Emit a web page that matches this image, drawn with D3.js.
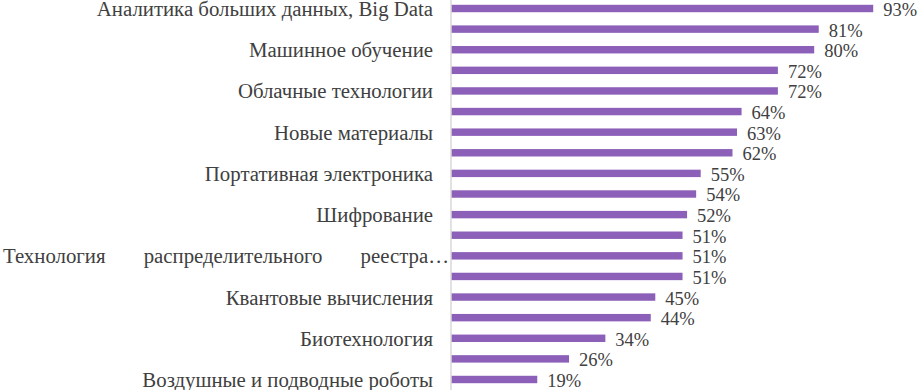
<!DOCTYPE html>
<html>
<head>
<meta charset="utf-8">
<script src="https://cdn.jsdelivr.net/npm/d3@7"></script>
<style>
  body { margin: 0; background: #fff; }
</style>
</head>
<body>
<div id="chart"></div>
<script>
// values, top to bottom
var values = [93, 81, 80, 72, 72, 64, 63, 62, 55, 54, 52, 51, 51, 51, 45, 44, 34, 26, 19];

// only every other category label is shown in the picture
var tickLabels = [
  "Аналитика больших данных, Big Data", "",
  "Машинное обучение", "",
  "Облачные технологии", "",
  "Новые материалы", "",
  "Портативная электроника", "",
  "Шифрование", "",
  "Технология распределительного реестра…", "",
  "Квантовые вычисления", "",
  "Биотехнология", "",
  "Воздушные и подводные роботы"
];

var width = 917, height = 390;
var axisX = 451;
var font = "'Liberation Serif', 'Times New Roman', serif";
var textColor = "#404040";

var svg = d3.select("#chart").append("svg")
    .attr("width", width)
    .attr("height", height);

var x = d3.scaleLinear()
    .domain([0, 100])
    .range([axisX, axisX + 454]);

var y = d3.scaleBand()
    .domain(d3.range(values.length))
    .range([-1.8, 389.8])
    .paddingInner(0.64)
    .paddingOuter(0.32);

// bars
svg.selectAll(".bar")
    .data(values)
  .enter().append("rect")
    .attr("class", "bar")
    .attr("x", x(0))
    .attr("y", function(d, i) { return y(i); })
    .attr("width", function(d) { return x(d) - x(0); })
    .attr("height", y.bandwidth())
    .attr("fill", "#8c5fb8");

// vertical category axis
var yAxis = d3.axisLeft(y)
    .tickSize(0)
    .tickPadding(18)
    .tickFormat(function(i) { return tickLabels[i]; });

var gy = svg.append("g")
    .attr("transform", "translate(" + axisX + ",0)")
    .call(yAxis);

gy.select(".domain")
    .attr("stroke", "#d9d9d9")
    .attr("stroke-width", 1.5)
    .attr("d", "M0,0V" + height);

gy.selectAll(".tick text")
    .attr("dy", "0.36em")
    .style("font-family", font)
    .style("font-size", "20.8px")
    .style("fill", textColor);

// the long label is justified across the whole left area
gy.selectAll(".tick text")
    .filter(function(i) { return tickLabels[i].indexOf("реестра") >= 0; })
    .each(function(i) {
      var natural = this.getComputedTextLength();
      var target = axisX - 2 - 3;
      var gaps = tickLabels[i].split(" ").length - 1;
      d3.select(this)
          .attr("x", -2)
          .style("word-spacing", ((target - natural) / gaps) + "px");
    });

// value labels
svg.selectAll(".val")
    .data(values)
  .enter().append("text")
    .attr("class", "val")
    .attr("x", function(d) { return x(d) + 10; })
    .attr("y", function(d, i) { return y(i) + y.bandwidth() / 2 + 1; })
    .attr("dy", "0.35em")
    .style("font-family", font)
    .style("font-size", "18.5px")
    .style("fill", textColor)
    .text(function(d) { return d + "%"; });
</script>
</body>
</html>
